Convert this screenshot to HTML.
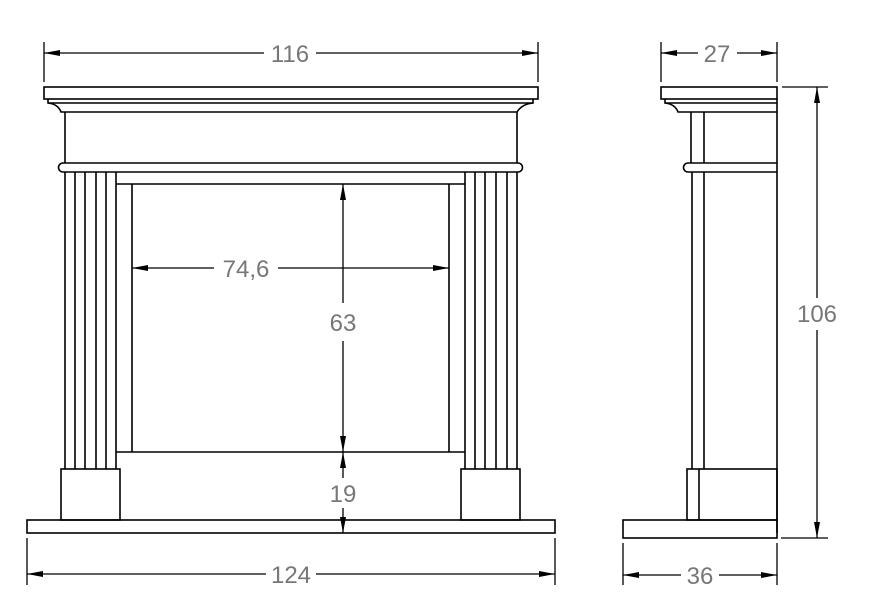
<!DOCTYPE html>
<html><head><meta charset="utf-8"><style>html,body{margin:0;padding:0;background:#fff}svg{display:block}</style></head>
<body>
<svg width="886" height="607" viewBox="0 0 886 607" xmlns="http://www.w3.org/2000/svg">
<defs>
<marker id="a" viewBox="0 0 16 6" refX="16" refY="3" markerWidth="16" markerHeight="6" markerUnits="userSpaceOnUse" orient="auto-start-reverse"><path d="M0,0 L16,3 L0,6 z" fill="#000"/></marker>
</defs>
<g fill="none" stroke="#000" stroke-width="1.6">
<rect x="44" y="87" width="494" height="12"/>
<path d="M48,99 V103 H533 V99"/>
<path d="M48,103 Q58,104 61,112 H517 Q522,104 533,103"/>
<path d="M65,112 V163 M517,112 V163"/>
<path d="M63,163 H518 A4.5,4.5 0 0 1 518,172 H63 A4.5,4.5 0 0 1 63,163 Z"/>
<path d="M65,172 V469 M75,172 V469 M85,172 V469 M96,172 V469 M106,172 V469 M116,172 V469"/>
<path d="M465,172 V469 M475,172 V469 M485,172 V469 M496,172 V469 M507,172 V469 M517,172 V469"/>
<path d="M116,184 H465 M132,184 V452 M449,184 V452 M116,452 H465"/>
<rect x="61" y="469" width="59" height="51"/>
<rect x="461" y="469" width="59" height="51"/>
<rect x="27" y="520" width="528" height="13"/>
<rect x="661" y="87" width="116" height="12"/>
<path d="M665,99 V103 H777"/>
<path d="M665,103 Q675,104 678,112 H777"/>
<path d="M777,99 V533"/>
<path d="M691,112 V163 M704,112 V163"/>
<path d="M777,163 H688 A4.5,4.5 0 0 0 688,172 H777"/>
<path d="M692,172 V469 M704,172 V469"/>
<rect x="687" y="469" width="90" height="51"/>
<path d="M699,469 V520"/>
<rect x="623" y="520" width="154" height="18"/>
</g>
<g stroke="#000" stroke-width="1.3" fill="none">
<path d="M44,42 V82 M538,42 V82 M27,538 V585 M555,538 V585 M661,42 V82 M777,42 V82 M623,543 V585 M777,543 V585 M782,87 H828 M781,538 H828"/>
<path d="M44,53 H264 M316,53 H538" marker-start="url(#a)" marker-end="url(#a)"/>
<path d="M27,574 H266 M316,574 H555" marker-start="url(#a)" marker-end="url(#a)"/>
<path d="M661,53 H698 M737,53 H777" marker-start="url(#a)" marker-end="url(#a)"/>
<path d="M623,575 H681 M719,575 H777" marker-start="url(#a)" marker-end="url(#a)"/>
<path d="M132,268 H214 M278,268 H449" marker-start="url(#a)" marker-end="url(#a)"/>
<path d="M343,184 V303 M343,341 V452" marker-start="url(#a)" marker-end="url(#a)"/>
<path d="M343,452 V478 M343,508 V533" marker-start="url(#a)" marker-end="url(#a)"/>
<path d="M817,87 V298 M817,330 V538" marker-start="url(#a)" marker-end="url(#a)"/>
</g>
<g font-family="Liberation Sans, sans-serif" font-size="24" fill="#777" text-anchor="middle">
<text x="290" y="62">116</text>
<text x="291" y="583">124</text>
<text x="717" y="62">27</text>
<text x="700" y="584">36</text>
<text x="246" y="277">74,6</text>
<text x="343" y="331">63</text>
<text x="343" y="502">19</text>
<text x="817" y="322">106</text>
</g>
</svg>
</body></html>
